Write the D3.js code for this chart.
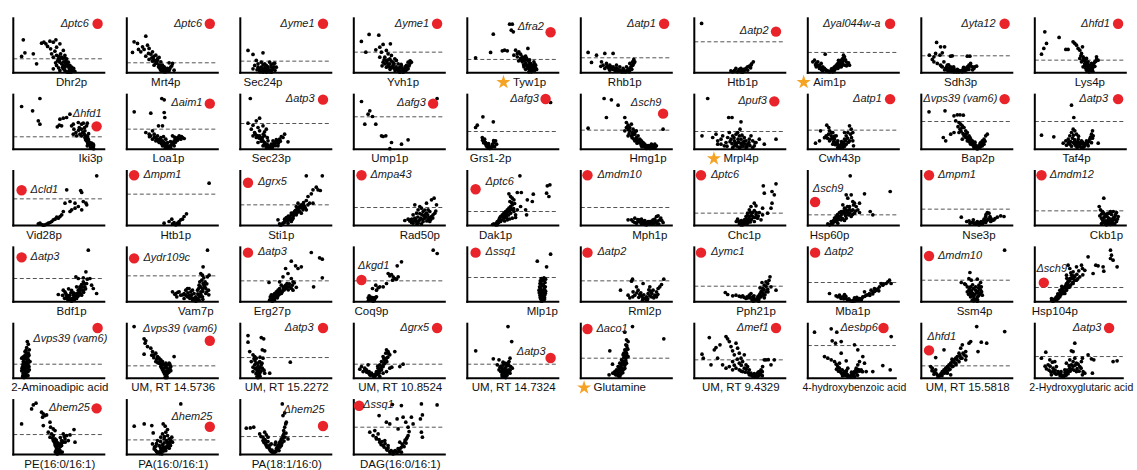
<!DOCTYPE html>
<html><head><meta charset="utf-8">
<script src="https://cdn.jsdelivr.net/npm/d3@7"></script>
<style>
html,body{margin:0;padding:0;background:#fff;}
svg{display:block;font-family:"Liberation Sans",Arial,Helvetica,sans-serif;}
</style></head><body>
<svg id="chart" width="1137" height="470"></svg>
<script>
// Panel titles (protein / metabolite), in reading order, 10 per row
const panelLabels = ["Dhr2p","Mrt4p","Sec24p","Yvh1p","Tyw1p","Rhb1p","Htb1p","Aim1p","Sdh3p","Lys4p",
"Iki3p","Loa1p","Sec23p","Ump1p","Grs1-2p","Hmg1p","Mrpl4p","Cwh43p","Bap2p","Taf4p",
"Vid28p","Htb1p","Sti1p","Rad50p","Dak1p","Mph1p","Chc1p","Hsp60p","Nse3p","Ckb1p",
"Bdf1p","Vam7p","Erg27p","Coq9p","Mlp1p","Rml2p","Pph21p","Mba1p","Ssm4p","Hsp104p",
"2-Aminoadipic acid","UM, RT 14.5736","UM, RT 15.2272","UM, RT 10.8524","UM, RT 14.7324","Glutamine","UM, RT 9.4329","4-hydroxybenzoic acid","UM, RT 15.5818","2-Hydroxyglutaric acid",
"PE(16:0/16:1)","PA(16:0/16:1)","PA(18:1/16:0)","DAG(16:0/16:1)"];

// Deletion strain highlighted in each panel
const knockouts = ["ptc6","ptc6","yme1","yme1","fra2","atp1","atp2","yal044w-a","yta12","hfd1",
"hfd1","aim1","atp3","afg3","afg3","sch9","puf3","atp1","vps39 (vam6)","atp3",
"cld1","mpm1","grx5","mpa43","ptc6","mdm10","ptc6","sch9","mpm1","mdm12",
"atp3","ydr109c","atp3","kgd1","ssq1","atp2","ymc1","atp2","mdm10","sch9",
"vps39 (vam6)","vps39 (vam6)","atp3","grx5","atp3","aco1","mef1","esbp6","hfd1","atp3",
"hem25","hem25","hem25","ssq1"];

// Panels flagged with a star
const starred = ["Tyw1p","Aim1p","Mrpl4p","Glutamine"];

// log2 fold-change range of each panel
const xLo = [-5.83,-3.9,-2.27,-4.93,-6.23,-4.4,-4.83,-2.17,-3.93,-5.5,
-7.73,-4.17,-3.1,-3.6,-2.33,-6.73,-4.67,-3.17,-5.67,-4.17,
-3.07,-4.9,-4.1,-6.6,-2.83,-6.9,-5.0,-2.17,-5.77,-7.17,
-5.83,-6.9,-3.2,-1.77,-7.5,-6.4,-6.17,-4.5,-5.33,-2.0,
-1.07,-3.9,-1.77,-2.1,-3.67,-3.9,-6.0,-4.17,-1.87,-2.83,
-4.5,-3.17,-3.27,-3.93];
const xHi = [3.27,5.2,6.83,4.17,2.87,4.7,4.27,6.93,5.17,3.6,
1.37,4.93,6.0,5.5,6.77,2.37,4.43,5.93,3.43,4.93,
6.03,4.2,5.0,2.5,6.27,2.2,4.1,6.93,3.33,1.93,
3.27,2.2,5.9,7.33,1.6,2.7,2.93,4.6,3.77,7.1,
8.03,5.2,7.33,7.0,5.43,5.2,3.1,4.63,7.23,5.97,
4.6,5.93,5.83,5.17];
// -log10(p) range shared by all panels
const yMax = 10.9;

// Significance cut-off (-log10 p) drawn as dashed line
const thresholds = [2.8,2.0,2.33,4.13,2.67,3.0,6.2,4.07,3.4,2.53,
2.47,4.0,5.13,6.47,3.53,3.8,3.53,3.8,5.53,5.53,
5.33,6.27,4.13,3.6,2.8,3.6,2.47,2.13,3.27,2.93,
4.67,5.2,4.2,4.2,4.87,4.2,3.13,3.87,4.33,2.87,
2.8,2.47,4.13,2.8,2.8,4.0,3.67,6.53,2.47,4.33,
4.0,2.93,3.6,5.47];

// Volcano points per panel: [log2 fold change, -log10 p] — outliers and arms
const volcanoPoints = [
// Dhr2p
[[-4.83,6.6],[-4.67,4.0],[-5.0,3.27],[-3.83,3.8],[-3.5,1.8],[-3.0,5.93],[-2.77,6.13],[-2.57,5.8],[-2.17,6.33],[-1.83,6.13],[-1.57,6.6],[-2.4,5.27],[-2.1,4.8],[-2.0,3.8],[-1.83,3.13],[-1.67,4.33],[-1.5,5.13],[-1.17,5.8],[-1.1,3.8],[-1.33,2.8],[-1.17,2.13],[-1.0,3.13],[-0.83,4.47],[-0.67,3.47],[-0.57,2.47],[-0.5,2.8],[-0.33,2.13],[-0.17,1.47],[0,1.13],[0,0.47],[0.17,0.6],[-0.23,0.8],[-0.5,1.47],[-0.83,1.47],[-1.0,1.8],[0.33,0.27],[-1.83,0.8],[-1.17,0.47],[-0.83,0.8],[-0.67,1.13],[-1.5,1.47],[-0.07,0.13],[-0.33,0.13],[-0.67,0.47]],
// Mrt4p
[[-3.17,6.2],[-2.83,5.87],[-2.0,7.33],[-2.33,5.2],[-3.33,4.07],[-2.5,4.2],[-2.17,4.67],[-1.83,5.53],[-1.67,4.87],[-1.5,3.73],[-1.33,4.2],[-1.0,3.53],[-1.27,2.87],[-0.83,2.53],[-0.67,3.07],[-0.5,2.2],[-1.0,1.87],[-0.33,1.53],[-0.17,1.2],[0,0.53],[0.17,0.87],[0.33,0.4],[0.5,1.2],[0.67,1.87],[0.33,2.0],[-0.73,1.2],[-0.33,0.87],[-1.17,1.53],[0,0.2],[-0.17,0.2],[-0.5,0.53],[0.83,0.53],[-1.33,2.33],[-2.0,3.33],[-1.67,2.67],[-2.73,4.67],[-1.73,3.87]],
// Sec24p
[[-1.5,4.47],[-1.0,3.67],[0,4.0],[-0.67,2.47],[-0.5,1.8],[-1.0,0.8],[-0.17,2.13],[0.17,1.8],[0.33,1.47],[0.67,2.13],[1.0,1.8],[1.17,1.93],[0.83,1.13],[0.5,0.8],[0.33,0.47],[0.17,0.33],[0,0.8],[-0.17,1.13],[-0.33,0.47],[0,0.13],[0.33,0.13],[0.67,0.47],[1.0,0.8],[1.33,1.13],[-0.5,1.13],[-0.83,1.47],[0.83,0.13],[-0.17,0.33]],
// Yvh1p
[[-4.17,6.27],[-3.4,7.67],[-2.43,7.53],[-3.73,4.13],[-2.73,4.6],[-2.33,5.13],[-2.0,5.67],[-1.27,5.8],[-2.17,4.13],[-1.67,4.47],[-1.5,3.8],[-1.83,3.13],[-2.0,2.13],[-1.67,2.47],[-1.33,2.8],[-1.17,3.47],[-1.0,2.13],[-0.83,2.8],[-0.67,2.47],[-0.5,1.8],[-0.33,1.13],[-0.17,1.47],[0,0.47],[0.17,0.8],[0.33,1.47],[0.5,2.13],[0.67,1.8],[0.83,2.13],[-1.17,1.13],[-1.5,1.47],[-0.83,0.8],[-0.5,0.47],[0,0.13],[-0.33,0.13],[-1.0,1.47],[-1.33,1.8],[-1.83,1.8],[-1.67,1.13],[0.5,0.8],[-2.33,3.13]],
// Tyw1p
[[-5.4,3.0],[-3.9,4.07],[-3.63,7.73],[-2.73,4.4],[-2.5,4.53],[-2.23,4.4],[-2.0,9.73],[-1.73,9.73],[-1.63,8.2],[-1.83,8.53],[-1.4,4.53],[-1.23,3.87],[-1.07,4.2],[-0.9,3.73],[-0.73,3.2],[-0.57,2.87],[-0.4,3.33],[-0.17,4.87],[-0.23,2.53],[-0.07,2.2],[0.1,1.87],[0.27,1.53],[0.1,1.2],[-0.07,0.87],[0.03,0.53],[0.17,0.2],[0.43,0.87],[0.6,1.53],[0.43,2.2],[-0.4,1.87],[-0.73,2.2],[-0.9,2.87],[-0.23,1.2],[0.27,0.53],[-0.57,1.2],[-1.23,3.2],[-1.57,3.53],[0.7,0.67],[-0.07,0.2]],
// Rhb1p
[[-3.67,4.07],[-2.83,3.53],[-2.0,3.87],[-1.17,3.87],[-3.33,2.07],[-2.33,2.2],[-2.17,1.53],[-1.83,1.87],[-1.67,1.2],[-1.5,1.53],[-1.33,0.87],[-1.17,1.2],[-1.0,0.53],[-0.83,0.87],[-0.67,0.4],[-0.5,0.53],[-0.33,0.2],[-0.17,0.4],[0,0.2],[0.17,0.4],[0.33,0.67],[0.5,0.87],[0.67,1.53],[0.77,2.2],[0.9,2.67],[0.5,1.87],[0.17,1.2],[-0.17,0.87],[-0.5,1.2],[-0.83,1.53],[-2.0,0.87],[-1.5,0.53],[0.43,0.2],[1.0,2.2]],
// Htb1p
[[-4.1,9.87],[-1.17,0.4],[-0.67,0.87],[-0.33,0.67],[-0.17,0.2],[0,0.13],[0.17,0.4],[0.33,0.87],[0.5,1.2],[0.67,1.33],[0.83,1.53],[1.07,2.2],[0,0.53],[-0.17,0.87],[-1.0,0.2],[0.5,0.53],[-0.5,0.2]],
// Aim1p
[[-0.43,3.73],[-1.5,2.53],[-1.33,1.87],[-1.17,2.2],[-1.0,1.53],[-0.83,1.87],[-0.67,1.2],[-0.5,0.87],[-0.33,0.53],[-0.17,0.4],[0,0.2],[0.17,0.53],[0.33,0.87],[0.5,1.2],[0.67,1.53],[0.83,1.87],[1.0,2.2],[1.17,2.53],[1.33,2.87],[1.5,3.2],[1.67,2.2],[1.83,1.73],[2.0,1.53],[1.5,1.53],[1.17,1.2],[0.83,0.87],[0.5,0.53],[-1.0,0.87],[-1.33,1.2],[-0.67,0.4],[0.33,0.2],[1.0,1.2],[1.4,3.53],[1.27,1.87],[-1.67,2.2]],
// Sdh3p
[[-2.4,6.07],[-2.0,5.2],[-1.6,5.2],[-3.13,3.53],[-2.83,2.67],[-2.67,3.2],[-2.5,3.87],[-2.07,3.53],[-1.83,4.0],[-1.67,2.2],[-1.0,3.33],[-0.83,3.4],[0.67,3.33],[0.93,3.33],[-2.0,1.53],[-1.83,1.2],[-1.5,0.87],[-1.33,1.53],[-1.17,0.87],[-1.0,1.2],[-0.83,0.53],[-0.67,0.87],[-0.5,0.4],[-0.33,0.67],[-0.17,0.2],[0,0.4],[0.17,0.2],[0.33,0.53],[0.5,0.87],[0.67,1.2],[0.83,1.53],[1.0,1.87],[1.17,1.2],[1.33,0.87],[1.6,1.33],[-1.33,0.53],[-0.67,0.2],[-2.33,1.87],[-2.67,2.2],[0.83,0.67]],
// Lys4p
[[-4.83,3.73],[-4.6,4.87],[-4.33,5.87],[-4.5,8.2],[-3.07,7.07],[-2.4,4.67],[-2.17,4.67],[-1.67,6.2],[-1.5,5.87],[-1.33,5.53],[-1.17,4.87],[-1.0,4.53],[-0.83,3.87],[-0.73,5.2],[-0.67,3.2],[-1.0,2.87],[-0.5,2.53],[-0.33,2.87],[-0.83,2.2],[-0.5,1.87],[-0.33,1.53],[-0.17,1.2],[0,0.87],[0.17,0.53],[-0.07,0.2],[0.07,0.4],[0.33,1.53],[0.5,2.2],[0.67,2.67],[0.83,2.53],[0.67,3.2],[0.17,1.87],[-0.17,2.2],[-0.67,1.2],[-0.33,0.53],[0.27,0.87]],
// Iki3p
[[-6.9,8.53],[-5.8,7.67],[-5.07,10.13],[-5.23,5.67],[-5.07,5.0],[-3.33,4.47],[-3.13,4.8],[-2.9,4.67],[-3.07,6.0],[-2.73,6.2],[-2.4,6.33],[-2.07,7.0],[-1.9,4.67],[-1.73,5.0],[-1.67,4.0],[-1.47,3.33],[-1.23,5.33],[-1.13,4.33],[-0.9,5.0],[-0.73,5.2],[-0.57,3.67],[-0.4,4.67],[-0.33,5.2],[-0.47,2.67],[-0.73,3.33],[-1.07,3.0],[-0.23,2.0],[-0.07,1.33],[0.1,0.67],[0.27,1.0],[0,0.33],[-0.23,1.0],[-0.4,1.67],[-0.57,2.33],[-0.9,2.67],[-1.4,2.67],[-1.73,3.0],[0.2,0.33],[-0.33,0.67]],
// Loa1p
[[-3.43,7.47],[-1.77,7.2],[-0.67,10.13],[-0.43,9.87],[-0.43,7.33],[-0.37,6.33],[-1.0,4.67],[-0.6,4.67],[-2.27,3.33],[-1.93,3.0],[-1.77,2.67],[-1.6,3.67],[-1.43,3.0],[-1.27,2.33],[-1.1,2.67],[-0.93,2.0],[-0.77,2.33],[-0.6,1.67],[-0.43,1.33],[-0.27,1.0],[-0.1,0.67],[0.07,0.33],[0.23,0.67],[0.4,1.33],[0.57,1.67],[0.73,2.0],[0.9,2.33],[1.07,2.67],[1.23,2.0],[1.4,2.33],[1.57,2.13],[0.4,2.67],[-0.27,2.0],[-0.6,0.67],[-0.93,1.33],[-1.27,1.67],[-1.6,2.0],[0.57,0.67],[0.23,0.2],[-0.33,0.2]],
// Sec23p
[[-2.1,10.13],[-1.17,6.2],[-2.33,5.2],[-1.83,4.8],[-1.5,5.67],[-1.33,4.33],[-2.0,4.0],[-1.67,3.33],[-1.17,3.67],[-0.83,4.67],[-0.67,3.47],[-0.5,4.0],[-1.83,2.67],[-1.5,2.33],[-1.17,2.67],[-1.0,2.0],[-0.83,1.67],[-0.67,1.33],[-0.5,1.0],[-0.33,0.67],[-0.17,0.33],[0,0.2],[0.17,0.67],[0.33,1.0],[0.5,1.33],[0.67,1.67],[0.83,2.0],[1.17,2.33],[1.33,3.0],[1.67,1.47],[-1.33,1.33],[-0.83,0.67],[-0.33,1.67],[0.17,1.67],[0.67,0.67],[-0.5,0.33],[-0.67,2.67],[0,1.0]],
// Ump1p
[[-2.83,9.53],[-2.17,7.0],[-2.0,7.67],[-2.5,5.0],[-1.73,6.53],[-1.4,5.0],[-0.83,2.67],[-0.67,2.53],[-0.4,2.67],[0.17,1.33],[1.17,1.0],[1.83,1.87],[0,0.1],[4.73,10.13]],
// Grs1-2p
[[-1.5,4.33],[-1.33,4.8],[-0.77,6.47],[0.27,5.47],[-0.83,2.33],[-0.67,1.67],[-0.5,1.33],[-0.33,1.0],[-0.17,0.67],[0,0.33],[0.17,0.67],[0.33,1.33],[0.5,1.67],[0.6,1.0],[-0.27,0.33],[-0.6,2.0],[6.0,9.33],[-0.07,0.13]],
// Hmg1p
[[-6.0,4.2],[-4.4,10.13],[-3.67,9.87],[-3.0,8.8],[-4.17,6.33],[-2.33,6.33],[-2.17,5.33],[-2.0,4.8],[-1.83,4.33],[-1.67,5.0],[-1.83,3.67],[-1.57,3.33],[-1.67,2.67],[-1.33,3.0],[-1.17,2.33],[-1.0,2.67],[-0.83,2.0],[-0.67,1.67],[-0.5,1.33],[-0.33,1.0],[-0.17,0.67],[0,0.33],[0.17,0.67],[0.33,1.0],[0.5,0.67],[0.67,1.0],[0.83,0.67],[-2.33,3.67],[-2.0,2.67],[-1.33,1.67],[-1.0,1.33],[-0.67,0.67],[-0.17,0.13],[1.5,4.0],[-1.5,4.0],[-1.17,3.67],[-2.17,4.33],[0.17,0.13]],
// Mrpl4p
[[-3.33,10.13],[-1.23,6.33],[-0.9,6.33],[0,5.47],[-3.9,2.67],[-2.83,2.33],[-2.5,3.0],[-2.33,1.67],[-2.0,2.0],[-1.83,2.67],[-1.5,1.33],[-1.33,2.33],[-1.17,3.33],[-1.0,2.0],[-0.83,2.67],[-0.67,1.67],[-0.5,1.0],[-0.33,3.33],[-0.17,2.67],[-0.1,4.0],[0,2.0],[0.1,0.67],[0.17,1.33],[0.33,2.33],[0.5,1.67],[0.67,1.0],[0.83,2.0],[1.0,2.67],[1.17,1.67],[1.33,0.67],[1.5,1.33],[1.83,2.0],[2.33,1.0],[3.5,2.0],[-2.33,1.0],[-1.67,0.67],[-0.67,0.67],[-0.17,0.33],[0.5,0.33],[1.17,0.33],[-0.33,1.33],[-0.83,0.33]],
// Cwh43p
[[-2.4,1.2],[-2.0,1.67],[-1.9,3.67],[-1.27,4.8],[-1.07,4.33],[-1.0,3.67],[-1.33,2.67],[-0.83,2.67],[-0.67,3.33],[-0.5,2.0],[-0.33,1.33],[-0.17,1.67],[0,0.67],[0.17,1.0],[0.33,1.33],[0.5,2.0],[0.67,2.67],[0.83,3.33],[1.0,4.67],[1.17,4.0],[1.33,1.67],[1.4,0.67],[-0.67,1.0],[-1.0,1.67],[-0.33,2.67],[0.67,1.0],[1.0,1.67],[0,0.2],[0.33,0.33],[-0.17,0.33],[0.5,3.33],[1.33,3.33]],
// Bap2p
[[-4.9,7.47],[-3.3,7.67],[-2.4,6.67],[-2.07,6.87],[-1.8,6.87],[-1.47,6.8],[-2.23,5.67],[-1.9,5.33],[-1.73,5.0],[-1.57,4.67],[-1.8,4.0],[-1.4,4.33],[-1.23,3.67],[-1.9,3.33],[-2.4,3.33],[-2.73,3.0],[-3.47,2.33],[-3.23,1.67],[-1.07,3.33],[-0.9,2.67],[-0.73,2.0],[-0.57,1.67],[-0.4,1.33],[-0.23,0.67],[-0.07,0.33],[0.1,0.67],[0.27,1.33],[0.43,1.67],[0.6,2.0],[0.77,2.67],[0.93,3.0],[-1.4,2.67],[-1.07,1.67],[-0.73,1.0],[-0.4,0.33],[0.43,0.67],[-1.57,2.0],[-1.23,2.33],[-0.07,0.05]],
// Taf4p
[[-0.5,8.8],[-0.27,6.33],[-3.5,2.8],[-2.27,2.47],[-1.33,1.2],[-1.07,1.67],[-0.83,2.0],[-0.67,2.67],[-0.5,3.33],[-0.33,4.0],[-0.17,3.67],[0,3.0],[0.17,2.0],[-0.33,1.33],[-0.07,0.67],[0.07,0.33],[-0.17,1.0],[0.33,1.33],[0.5,1.67],[0.67,1.0],[0.83,0.67],[1.0,1.67],[1.33,2.0],[1.5,3.0],[1.6,3.67],[1.67,2.67],[2.17,1.2],[-0.67,1.0],[-1.0,0.8],[0.17,1.0],[1.17,0.67],[0.5,0.33]],
// Vid28p
[[5.27,9.93],[2.27,7.13],[3.67,7.0],[3.77,6.6],[2.6,4.8],[2.1,4.47],[3.1,4.47],[3.93,4.8],[4.2,4.47],[4.27,4.13],[2.77,3.13],[2.6,2.8],[3.77,3.13],[3.43,3.8],[3.1,3.47],[1.93,2.8],[1.6,1.8],[1.43,1.47],[1.27,1.67],[1.1,1.27],[0.77,0.8],[0.6,0.6],[0.43,0.47],[0.27,0.27],[-0.07,0.07],[-0.23,0.2],[-0.4,0.47],[-0.57,0.33],[0.1,0.13],[0.93,1.13],[1.77,2.13]],
// Htb1p
[[3.33,8.47],[-1.17,0.47],[-0.67,0.8],[-0.33,0.33],[-0.17,0.6],[0,0.13],[0.17,0.47],[0.33,0.8],[0.5,1.13],[0.67,1.27],[0.83,1.8],[1.07,2.33],[-0.4,1.27],[0.33,0.33]],
// Sti1p
[[2.5,9.93],[4.1,9.93],[3.5,7.67],[3.67,7.13],[3.9,7.0],[3.17,7.13],[3.0,6.33],[2.67,5.8],[2.23,4.6],[2.5,5.0],[2.83,4.47],[2.0,4.13],[1.83,3.8],[1.67,3.47],[1.5,3.13],[1.33,2.8],[1.17,2.47],[1.0,2.13],[0.83,1.8],[0.67,1.47],[0.5,1.13],[0.33,0.8],[0.17,0.47],[0,0.13],[-0.17,0.33],[-0.33,1.13],[0.33,1.27],[0.83,1.13],[1.17,1.47],[1.5,2.13],[1.83,2.8],[2.17,3.13],[2.33,3.8],[2.67,4.13],[3.17,4.47],[2.0,2.47],[2.5,3.13],[0.67,0.47],[1.0,0.8],[1.5,3.8],[1.67,4.47]],
// Rad50p
[[-1.5,1.0],[-1.17,1.27],[-0.93,1.13],[-0.67,2.13],[-0.5,1.47],[-0.33,2.47],[-0.17,3.13],[0,3.8],[0.17,3.47],[0.33,2.8],[0.5,2.13],[0.67,2.47],[0.83,3.13],[1.0,2.8],[1.17,5.13],[1.43,5.47],[1.67,4.13],[1.33,2.13],[1.5,2.47],[0,1.13],[-0.17,0.47],[0.17,0.33],[0.33,0.8],[-0.33,0.8],[-0.67,0.47],[0.5,1.47],[0.83,1.13],[1.17,1.8],[-0.5,4.13],[0.67,4.47],[1.0,0.8],[-0.83,0.6]],
// Dak1p
[[2.43,9.93],[2.17,6.6],[2.57,6.6],[3.77,6.27],[5.17,7.93],[5.43,8.13],[5.1,6.47],[5.33,5.8],[1.33,6.33],[1.5,5.8],[1.67,5.47],[1.83,5.13],[1.43,4.8],[1.67,4.13],[1.5,3.8],[1.33,3.47],[1.17,3.13],[1.0,2.8],[0.83,2.47],[0.67,2.13],[0.5,1.8],[0.33,1.13],[0.17,0.8],[0,0.13],[-0.17,0.33],[0.17,0.13],[0.5,0.8],[0.83,1.47],[1.17,2.13],[1.5,2.47],[1.83,2.8],[2.17,3.13],[3.17,5.13],[3.67,4.8],[3.0,3.13],[3.1,2.13],[2.5,3.8],[2.0,2.13],[1.67,1.47],[1.17,1.13]],
// Mph1p
[[-2.17,1.13],[-1.83,1.13],[-1.5,1.47],[-1.17,0.8],[-0.83,1.27],[-0.67,0.6],[-0.5,1.0],[-0.33,0.47],[-0.17,0.8],[0,0.27],[0.17,0.6],[0.33,1.13],[0.5,1.27],[0.67,1.8],[0.83,1.93],[1.0,1.13],[1.33,0.6],[-1.33,0.47],[-0.83,0.33],[-0.33,0.13],[0.33,0.27],[0.67,0.47],[0,0.8],[-1.0,1.13],[-1.67,0.8]],
// Chc1p
[[1.9,7.93],[3.17,8.33],[2.77,6.8],[3.0,6.13],[2.0,6.47],[1.0,4.47],[1.17,3.93],[1.83,3.47],[2.33,2.47],[2.67,3.47],[2.77,4.47],[0.67,3.8],[0.5,3.13],[0.33,2.47],[0.17,1.8],[0,1.13],[-0.17,0.8],[-0.33,0.47],[-0.5,0.8],[-0.67,1.27],[-0.17,0.13],[0,0.33],[0.17,0.8],[0.33,1.27],[0.5,1.8],[0.67,2.13],[0.83,2.6],[1.0,3.0],[1.17,2.13],[1.33,1.47],[1.67,1.13],[1.83,2.13],[-0.33,0.13],[0.33,0.47]],
// Hsp60p
[[2.07,9.93],[6.07,6.8],[3.5,6.33],[1.67,6.13],[2.17,6.13],[1.83,5.47],[2.33,4.8],[2.5,4.47],[2.67,3.8],[3.0,4.47],[2.83,3.13],[4.07,2.8],[4.33,2.13],[1.33,4.13],[1.5,3.47],[1.67,3.13],[2.0,3.8],[1.83,2.8],[1.5,2.47],[1.17,2.13],[1.0,1.8],[0.83,1.47],[0.67,1.13],[0.5,0.8],[0.33,0.47],[0,0.13],[-0.17,0.33],[0.17,0.8],[0.67,1.8],[1.17,2.8],[2.0,2.47],[2.33,3.13],[2.5,2.47],[2.17,1.8],[1.67,1.47],[1.17,1.13],[0.83,0.47]],
// Nse3p
[[-1.77,1.67],[-1.23,0.8],[-1.0,0.93],[-0.77,0.6],[-0.57,1.13],[-0.33,0.47],[-0.17,0.8],[0,0.13],[0.17,0.47],[0.33,0.8],[0.5,1.27],[0.67,1.8],[0.83,2.6],[1.0,2.47],[0.9,1.27],[1.17,0.8],[1.33,1.0],[1.5,1.13],[1.83,1.67],[2.17,1.93],[2.5,1.8],[-0.5,0.33],[0.33,0.33],[0.67,0.6],[1.1,1.8],[0,0.6]],
// Ckb1p
[[-0.27,5.47],[-0.73,3.8],[-0.6,3.13],[-0.4,2.8],[-0.27,2.47],[-0.07,2.13],[0.07,1.8],[0.27,2.47],[0.4,2.8],[0.67,2.8],[1.0,2.6],[1.17,1.8],[0.83,1.8],[0.67,1.13],[0.5,0.8],[0.33,0.47],[0.17,0.27],[0,0.13],[-0.17,0.47],[-0.33,0.8],[-0.5,1.47],[-0.67,1.93],[1.0,0.8],[0.83,0.33],[0.67,0.27],[-0.27,1.47],[0.17,1.13],[-0.07,0.93]],
// Bdf1p
[[1.67,10.33],[1.43,6.0],[0.43,5.0],[0.67,4.67],[1.17,4.8],[1.57,4.53],[1.83,4.67],[2.0,3.33],[2.17,2.67],[2.5,1.67],[-1.33,1.47],[-0.67,2.0],[-0.5,1.33],[-0.33,1.0],[-0.17,0.67],[0,0.13],[0.17,0.33],[0.33,1.0],[0.5,1.67],[0.67,2.33],[0.83,3.0],[1.0,3.47],[1.17,4.0],[0.83,2.0],[0.5,0.67],[0.17,1.33],[-0.33,0.33],[-0.57,0.8],[1.33,3.0],[1.5,3.67],[1.17,2.33],[1.0,1.33],[0.67,1.2],[-0.83,2.33],[-0.07,1.8]],
// Vam7p
[[1.17,10.33],[0.73,7.0],[0.5,5.67],[0.67,5.33],[1.17,5.0],[1.33,5.33],[-2.33,2.0],[-2.0,1.67],[-1.67,2.0],[-1.5,1.33],[-1.17,1.67],[-1.0,2.33],[-0.83,2.67],[-0.67,1.33],[-0.5,1.0],[-0.33,0.67],[-0.17,0.33],[0,0.13],[0.17,0.67],[0.33,1.33],[0.5,2.0],[0.67,2.67],[0.73,3.67],[0.83,3.33],[1.0,2.67],[0.93,4.0],[0.6,4.33],[0.33,3.33],[0.17,2.33],[-0.17,1.67],[-0.5,2.0],[-0.83,1.0],[-1.17,0.67],[0.33,0.33],[0.67,1.0],[1.0,1.67],[1.27,2.33],[0,1.0],[-0.33,2.33],[-0.67,2.67]],
// Erg27p
[[3.9,9.87],[4.73,8.8],[5.0,8.53],[5.0,4.8],[4.13,3.0],[1.9,8.13],[2.33,7.2],[2.57,6.67],[2.9,7.0],[1.33,6.67],[1.57,5.67],[1.07,5.0],[1.9,4.67],[2.07,4.0],[1.47,3.67],[1.23,3.0],[0.9,3.33],[0.73,2.67],[0.57,2.33],[0.4,2.0],[0.23,1.67],[0.07,1.33],[-0.1,0.67],[-0.27,0.33],[0,0.13],[0.23,0.67],[0.57,1.2],[0.9,1.67],[1.07,2.33],[1.4,2.67],[1.73,3.0],[2.0,3.33],[-0.33,3.87],[0.73,4.0],[0.4,1.0],[-0.2,1.0],[2.07,2.33]],
// Coq9p
[[6.17,10.33],[6.57,9.67],[2.57,7.2],[3.0,8.0],[1.67,5.67],[1.83,5.2],[2.0,5.47],[2.17,5.0],[2.33,4.67],[2.5,4.53],[2.67,5.0],[2.1,4.33],[1.5,3.67],[1.17,3.0],[0.83,3.0],[0.5,2.33],[0.67,2.8],[0.1,2.67],[0.43,3.33],[-0.23,1.2],[-0.1,0.8],[0,0.33],[0.17,0.13],[0.33,0.67],[0.5,1.0],[0.1,0.53],[-0.33,0.8]],
// Mlp1p
[[0.83,9.53],[-0.5,8.13],[0.43,7.0],[-0.1,4.67],[0.17,4.8],[0.33,4.53],[-0.23,3.67],[0,3.33],[0.17,3.0],[-0.17,2.67],[0.1,2.33],[-0.1,2.0],[0.17,1.67],[-0.23,1.33],[0,1.0],[0.23,0.8],[-0.17,0.67],[0.1,0.33],[-0.1,0.13],[0.33,2.13],[-0.33,2.33],[0.27,3.87],[-0.27,3.0],[0.23,1.33]],
// Rml2p
[[-2.43,2.33],[-1.67,1.33],[-1.33,4.13],[-1.23,4.53],[-1.17,2.0],[-0.83,3.0],[-0.67,2.33],[-0.5,1.47],[-0.17,3.67],[-0.33,1.2],[0,0.67],[0.17,1.0],[0.33,1.67],[0.5,3.0],[0.57,2.13],[0.83,2.33],[1.0,1.33],[1.17,2.0],[1.33,2.67],[1.5,3.0],[1.67,3.47],[1.9,4.53],[-0.23,0.33],[-1.0,1.33],[-1.5,0.8],[0.67,1.0],[0.17,0.33],[1.17,1.0]],
// Pph21p
[[-3.07,1.87],[-2.83,1.47],[-2.33,1.2],[-2.0,1.33],[-1.67,1.13],[-1.33,1.2],[-0.83,0.8],[-0.67,1.33],[-0.5,1.67],[-0.33,1.0],[-0.17,0.67],[0,0.33],[0.17,0.8],[0.33,1.33],[0.5,2.0],[0.67,2.67],[0.83,3.33],[1.0,4.0],[1.4,5.0],[1.17,3.67],[1.5,3.0],[2.0,2.33],[0.67,1.33],[1.0,2.0],[-0.27,0.13],[0.27,0.13],[0.83,0.8],[0.6,3.87],[1.17,2.53],[-1.0,0.67]],
// Mba1p
[[-2.33,1.67],[-1.67,1.2],[-1.33,1.33],[-1.0,1.0],[-0.67,0.67],[-0.33,0.33],[0,0.13],[0.33,0.33],[0.67,0.67],[1.0,1.0],[1.33,1.33],[1.67,1.67],[2.0,2.0],[2.33,2.33],[2.67,3.0],[3.0,3.33],[3.33,3.67],[3.67,4.33],[3.83,3.67],[2.83,3.67],[-0.83,1.47],[0.17,0.8],[1.17,2.0],[1.83,2.33],[-0.5,0.33],[0.83,0.33],[-1.17,0.67],[2.17,2.67]],
// Ssm4p
[[3.0,10.33],[-0.47,5.87],[-0.57,4.67],[-0.33,4.33],[0.27,4.53],[0.6,3.87],[-1.33,3.87],[-0.9,3.47],[-0.73,3.0],[-0.57,2.33],[-0.4,2.0],[-0.23,1.33],[-0.07,0.67],[0.1,0.33],[0.27,1.0],[0.43,1.67],[0.6,2.33],[0.67,3.0],[0.1,2.33],[-0.13,2.67],[-0.33,1.67],[0.27,0.13],[-0.23,0.33],[0.77,1.33],[-0.73,2.0],[0.43,3.33]],
// Hsp104p
[[5.57,10.33],[5.67,9.33],[5.57,8.67],[5.83,8.33],[6.23,7.0],[4.83,7.0],[4.33,7.2],[4.1,7.33],[3.83,5.67],[4.9,6.13],[3.33,9.0],[2.67,7.33],[2.77,6.67],[2.17,7.0],[1.33,7.33],[1.5,6.67],[1.83,6.0],[1.67,5.33],[1.5,4.67],[1.33,4.13],[1.17,3.67],[1.0,3.0],[0.83,2.33],[0.67,2.0],[0.5,1.67],[0.33,1.33],[0.17,1.0],[0,0.33],[-0.17,0.13],[-0.33,0.67],[0.17,0.33],[0.5,1.0],[0.83,1.67],[1.17,2.33],[1.5,3.0],[1.83,3.67],[2.17,4.33],[2.5,5.0],[2.0,5.0],[1.33,3.33],[1.0,1.67],[0.33,0.67],[1.17,5.33],[1.83,4.67]],
// 2-Aminoadipic acid
[[0.33,7.33],[0.43,6.8],[0.27,6.13],[0.53,5.67],[0.1,5.33],[0.43,5.0],[0.27,4.67],[0,4.33],[0.2,4.0],[0.43,3.67],[-0.07,3.33],[0.1,3.0],[0.33,2.67],[-0.13,2.33],[0.2,2.13],[0,1.67],[0.27,1.33],[-0.07,1.0],[0.1,0.67],[-0.13,0.33],[0.2,0.33],[0.53,1.67],[-0.23,1.47],[0,0.13],[0.6,3.33],[-0.23,4.0]],
// UM, RT 14.5736
[[-3.17,10.33],[-2.17,7.87],[-2.0,7.47],[-2.07,7.0],[-1.83,6.33],[-2.17,4.8],[-1.5,6.0],[-1.33,5.33],[-1.17,4.67],[-1.0,5.0],[-0.83,4.33],[-0.67,4.0],[-0.5,3.67],[-0.67,3.0],[-0.33,2.67],[-0.17,2.0],[0,1.33],[0.07,0.67],[-0.07,0.13],[0.17,1.0],[0.33,1.67],[0.5,2.33],[0.33,3.0],[0.83,4.33],[-0.33,3.33],[0,2.33],[-0.5,2.33],[-1.0,3.33]],
// UM, RT 15.2272
[[-1.0,8.53],[-1.0,7.2],[0.33,8.13],[0.57,7.87],[0.43,5.67],[0.67,5.47],[-0.83,5.33],[-0.5,4.67],[-0.33,4.33],[-0.17,4.0],[-0.67,3.33],[-0.33,2.67],[0,3.0],[0.17,3.33],[0.33,2.67],[0.5,4.0],[-0.17,2.0],[0,1.33],[0.17,1.0],[-0.1,0.33],[0.1,0.67],[0.67,1.0],[1.17,1.0],[-0.5,1.33],[3.23,3.2],[0.43,2.0]],
// UM, RT 10.8524
[[1.17,5.67],[1.33,5.33],[1.1,5.0],[1.5,4.67],[0.83,4.33],[1.17,4.0],[0.67,3.33],[1.0,3.0],[0.5,2.67],[0.83,2.33],[0.33,2.0],[0.67,1.67],[0.17,1.33],[0.43,1.0],[0,0.33],[-0.17,0.67],[-0.33,1.0],[-0.57,1.33],[-0.83,1.67],[-1.0,2.0],[-1.33,2.33],[-0.5,0.67],[0.17,0.67],[0.5,0.33],[0.83,1.0],[1.17,1.33],[1.5,2.0],[2.0,5.33],[2.83,2.8],[2.5,2.33],[-0.67,2.67],[-1.17,1.33]],
// UM, RT 14.7324
[[0.4,10.33],[0.77,7.33],[-2.83,5.47],[-1.07,3.87],[-0.5,3.67],[0.07,3.0],[0.6,4.0],[0.5,3.33],[-0.67,2.67],[-0.33,2.33],[-0.17,2.0],[0,1.67],[0.17,1.33],[-0.07,1.0],[0.07,0.67],[0,0.33],[0.33,1.0],[0.5,1.67],[0.67,2.33],[0.83,2.0],[-0.33,1.33],[-0.5,1.67],[0.17,0.13],[-0.17,0.33],[0.6,1.0],[0.33,2.67]],
// Glutamine
[[1.27,10.33],[4.4,7.87],[0.5,9.2],[0.67,7.67],[0.83,7.33],[0.6,6.67],[0.73,6.0],[0.5,5.67],[0.67,5.0],[0.33,4.67],[0.6,4.0],[0.17,3.67],[0.5,3.33],[0,3.0],[0.33,2.67],[-0.17,2.33],[0.17,2.0],[-0.33,1.67],[0,1.33],[-0.5,1.33],[-0.17,1.0],[-0.4,0.67],[0,0.33],[-1.0,5.47],[-0.73,2.8],[-1.07,0.67],[0.5,2.0],[0.67,3.0],[0.83,4.33],[0.27,1.67]],
// UM, RT 9.4329
[[-4.5,8.13],[-5.23,4.8],[-5.1,4.0],[-4.33,2.67],[-4.0,5.67],[-3.83,6.13],[-3.67,4.0],[-3.43,6.67],[-2.83,8.33],[-2.67,7.87],[-2.5,7.33],[-2.33,6.33],[-2.17,5.47],[-2.0,4.67],[-1.83,7.0],[-1.67,6.0],[-1.5,5.0],[-2.17,3.33],[-2.5,2.33],[-2.83,2.0],[-3.17,2.67],[-1.33,4.0],[-1.17,3.33],[-1.0,4.67],[-0.83,2.67],[-0.5,1.67],[-0.33,1.0],[-0.17,0.67],[0,0.33],[0.17,0.67],[0.33,1.0],[0.5,1.33],[0.67,1.67],[0.83,2.33],[1.0,3.67],[1.17,3.67],[1.67,2.67],[2.0,3.67],[-1.83,2.0],[-1.5,1.67],[-1.17,1.33],[-0.67,2.33],[-0.5,0.67],[0.33,0.33],[-2.17,1.67]],
// 4-hydroxybenzoic acid
[[-3.5,9.2],[-1.83,9.87],[-1.27,9.2],[4.17,8.33],[-1.73,7.47],[-1.4,7.0],[-0.83,7.33],[0.5,6.67],[0.83,5.67],[-0.83,5.0],[-2.5,4.33],[-2.17,4.0],[-1.83,3.67],[-1.5,3.33],[-1.33,2.8],[-1.17,2.33],[-1.0,2.0],[-0.73,1.67],[-0.5,1.33],[-0.33,1.0],[-0.17,0.67],[0,0.33],[0.17,0.67],[0.33,1.0],[0.5,1.33],[0.67,2.0],[0.83,2.67],[1.0,3.33],[1.33,4.33],[1.5,3.0],[-0.33,3.47],[1.67,1.33],[2.33,1.33],[3.33,2.53],[4.07,1.67],[-0.5,0.67],[0.5,0.33],[1.17,1.67],[-1.0,3.0],[-0.17,2.0]],
// UM, RT 15.5818
[[3.67,10.33],[6.47,9.33],[3.07,7.33],[2.9,7.0],[4.13,7.2],[4.67,7.0],[2.23,6.67],[2.07,6.0],[3.8,5.33],[2.57,5.33],[2.4,4.67],[1.9,5.0],[1.73,4.33],[1.57,4.0],[1.4,3.67],[1.23,3.33],[1.07,3.0],[0.9,2.67],[0.73,2.33],[0.57,2.0],[0.4,1.67],[0.23,1.33],[0.07,0.67],[-0.1,0.33],[-0.27,0.67],[-0.6,1.33],[-0.77,2.0],[-0.43,1.67],[0.4,5.67],[0.4,1.0],[0.9,1.67],[1.23,2.33],[1.57,3.0],[2.07,4.0],[2.57,3.67],[1.07,0.67],[0.73,1.0],[-0.43,4.13],[-0.93,2.33]],
// 2-Hydroxyglutaric acid
[[1.17,7.0],[0.83,5.47],[1.0,5.33],[-1.73,5.2],[-2.17,4.0],[-1.33,3.67],[-1.07,3.2],[-1.5,2.67],[-1.67,1.87],[-1.0,2.0],[-0.67,2.33],[-0.5,1.33],[-0.33,1.0],[-0.17,0.67],[0,0.33],[0.17,0.67],[0.33,1.0],[0.5,1.33],[0.67,2.0],[0.83,2.67],[1.0,3.33],[1.17,4.0],[1.33,3.0],[1.67,2.33],[1.83,3.33],[1.93,4.0],[2.5,4.67],[2.83,3.87],[3.07,3.67],[2.93,1.0],[5.0,3.33],[5.4,3.47],[1.93,0.67],[2.17,1.0],[-0.83,1.0],[-1.17,0.67],[0.33,3.0],[0.67,3.67],[1.33,1.33],[-0.83,3.33],[0.17,1.67]],
// PE(16:0/16:1)
[[-3.67,6.13],[-2.67,9.13],[-2.23,10.27],[-2.5,9.93],[-1.67,8.47],[-1.5,8.13],[-1.33,7.8],[-1.57,7.47],[-1.17,7.93],[-1.5,5.8],[-0.83,6.47],[-0.77,5.47],[-0.5,5.13],[-0.33,4.8],[-0.67,4.13],[-1.0,4.47],[-0.5,3.8],[-0.33,3.13],[-0.17,2.47],[-0.1,1.8],[0,1.13],[0.1,0.47],[-0.1,0.13],[0.17,0.8],[0.33,1.8],[0.5,2.47],[0.67,3.13],[0.83,3.8],[1.17,3.93],[1.57,5.0],[1.67,2.47],[0.5,4.13],[-0.33,2.13],[-0.5,2.8],[0.33,2.8],[-0.23,0.8],[-0.83,3.47],[1.0,2.8]],
// PA(16:0/16:1)
[[-2.43,5.67],[-1.43,6.13],[-0.67,5.8],[-0.53,4.33],[2.23,10.13],[0.47,6.13],[0.67,5.67],[0.9,5.0],[0.73,4.47],[0.4,4.13],[0.23,3.47],[0.57,3.13],[0.9,3.8],[1.07,3.13],[1.23,2.8],[1.13,2.13],[0.9,1.8],[0.67,1.47],[0.4,1.13],[0.23,0.8],[0,0.47],[-0.2,0.6],[-0.43,1.13],[-0.27,1.67],[-0.6,2.13],[0.07,1.8],[0.57,2.33],[1.4,2.47],[1.33,3.47],[0.33,0.13],[0.73,0.8],[1.07,1.27],[-0.1,2.8]],
// PA(18:1/16:0)
[[-2.67,5.27],[-2.27,5.33],[-1.93,5.47],[-1.33,4.13],[-0.83,4.47],[-0.67,3.93],[-0.5,3.47],[-1.0,2.8],[-0.73,2.13],[-0.5,1.67],[-0.33,1.13],[-0.17,0.6],[0,0.33],[0.17,0.6],[0.33,1.13],[0.5,1.8],[0.67,2.47],[0.83,3.13],[1.0,3.8],[1.07,4.8],[1.17,5.47],[1.27,6.13],[1.0,7.8],[1.17,8.33],[0.93,10.13],[1.33,6.47],[-1.0,3.47],[-0.67,1.8],[-0.27,0.8],[0.6,0.8],[0.83,1.8],[0.27,2.47],[-0.17,2.13],[1.5,3.13]],
// DAG(16:0/16:1)
[[-0.07,10.0],[0.83,9.8],[2.83,10.13],[4.4,9.93],[-1.4,7.8],[-0.67,6.47],[0.4,7.13],[1.0,7.47],[1.27,6.47],[1.83,7.47],[2.73,7.13],[2.93,7.93],[2.0,6.13],[1.5,5.47],[1.6,4.6],[2.83,4.47],[2.93,3.47],[-2.33,4.47],[-2.0,3.8],[-1.67,3.13],[-1.33,2.47],[-1.0,1.8],[-0.67,1.13],[-0.33,0.6],[0,0.13],[0.33,0.6],[0.67,1.13],[1.0,1.8],[1.17,2.47],[1.33,3.13],[1.5,3.8],[-0.33,6.13],[0.5,5.13],[-1.5,4.13],[-0.83,2.8],[0.67,2.47],[-0.5,1.8],[0.83,0.47],[-1.83,4.8]]
];

// Densely packed non-significant core of each volcano: [log2 fold change, -log10 p]
const volcanoCore = [
[[-1.5,3.5],[-1.3,3.3],[-1.2,2.6],[-0.9,2.9],[-0.8,2.2],[-0.6,1.9],[-0.4,1.7],[-0.3,1.2],[-0.1,0.9],[0.1,0.3],[-0.5,0.2],[-0.9,1.1],[-1.3,1.0],[-0.2,0.5],[0.2,0.9],[-1.4,2.4],[-0.7,3.0],[-1.6,2.0]],
[[-1.2,3.3],[-1.1,2.5],[-0.9,2.1],[-0.7,1.6],[-0.5,1.5],[-0.4,0.5],[-0.6,0.9],[-0.2,0.6],[0.1,0.4],[0.4,0.8],[-0.8,2.9],[-1.4,3.0],[0.6,1.4],[-0.1,1.0]],
[[-0.6,0.6],[-0.4,0.9],[-0.1,0.5],[0.1,0.6],[0.3,0.9],[0.5,1.2],[0.6,0.2],[0.9,0.5],[1.1,1.2],[0.2,1.2],[-0.3,0.2],[0.5,0.4],[0.8,1.6],[1.2,0.5],[0.0,1.6]],
[[-1.9,2.6],[-1.6,2.0],[-1.4,1.2],[-1.2,2.4],[-1.0,1.0],[-0.9,1.8],[-0.7,1.2],[-0.6,0.8],[-0.4,0.9],[-0.3,0.4],[-0.1,0.9],[0.1,0.3],[0.3,0.5],[0.4,1.0],[0.6,1.4],[0.7,2.4],[-1.3,0.7],[-0.8,0.4],[-2.1,1.4],[-1.5,2.6],[-0.2,1.7],[0.2,1.2]],
[[-0.8,2.5],[-0.6,1.6],[-0.5,2.5],[-0.3,1.5],[-0.2,0.9],[-0.1,1.6],[0.0,0.9],[0.2,1.0],[0.3,0.9],[0.4,1.3],[0.5,0.5],[0.2,0.5],[-0.4,0.7],[-0.3,2.9],[0.6,1.0],[-1.1,2.4],[0.0,2.6],[0.5,1.8]],
[[-1.8,1.3],[-1.6,0.9],[-1.4,1.2],[-1.2,0.7],[-0.9,0.5],[-0.7,0.7],[-0.4,0.4],[-0.2,0.2],[0.1,0.2],[0.3,0.4],[0.5,0.5],[0.6,1.1],[0.7,0.7],[0.8,1.5],[0.9,1.9],[-0.1,0.6],[-2.4,1.3],[-1.0,0.9]],
[[-0.4,0.4],[0.1,0.7],[0.8,1.0],[0.9,1.8],[-0.8,0.5]],
[[-1.4,1.6],[-1.2,1.4],[-0.9,1.1],[-0.8,0.6],[-0.6,0.9],[-0.4,0.6],[-0.2,0.3],[0.1,0.3],[0.2,0.8],[0.4,0.6],[0.6,0.9],[0.7,1.2],[0.9,1.5],[1.1,1.7],[1.3,2.0],[1.4,2.5],[1.6,2.6],[1.2,1.4],[0.9,2.5],[1.7,1.4],[1.9,2.0]],
[[-1.9,1.3],[-1.6,0.6],[-1.4,1.1],[-1.2,0.4],[-1.0,0.7],[-0.9,0.3],[-0.6,0.5],[-0.4,0.2],[-0.2,0.5],[0.1,0.3],[0.2,0.6],[0.4,0.3],[0.6,0.6],[0.8,1.0],[1.0,1.4],[1.2,0.6],[1.4,1.2],[-0.7,1.2],[0.3,1.1],[-1.2,1.6]],
[[-0.9,3.4],[-0.7,2.5],[-0.6,2.9],[-0.4,2.2],[-0.3,1.2],[-0.2,1.7],[-0.1,0.6],[0.1,0.7],[0.2,1.2],[0.3,0.3],[0.4,1.9],[0.5,1.3],[0.6,2.3],[-0.5,1.5],[0.0,1.5],[-0.4,0.9]],
[[-0.6,2.9],[-0.4,2.1],[-0.3,2.5],[-0.2,1.6],[-0.1,1.0],[0.0,0.7],[0.1,1.2],[0.2,0.5],[0.3,0.7],[-0.3,1.3],[-0.5,1.9],[-0.8,3.3],[-0.6,4.3],[-0.2,3.1],[0.1,0.2],[0.3,0.1],[-1.2,3.8],[-0.9,4.0]],
[[-1.4,2.4],[-1.2,2.0],[-1.0,1.6],[-0.8,1.7],[-0.7,1.1],[-0.5,0.8],[-0.3,0.5],[-0.2,0.3],[0.1,0.6],[0.3,0.9],[0.5,1.1],[0.7,1.4],[0.9,1.8],[1.1,2.2],[0.2,1.5],[-0.1,1.3],[-0.5,2.5],[0.6,2.4],[1.3,2.5],[-1.9,2.5]],
[[-1.4,2.7],[-1.2,2.2],[-1.0,1.6],[-0.9,2.3],[-0.7,1.0],[-0.6,0.8],[-0.4,0.9],[-0.3,0.3],[-0.1,0.6],[0.1,0.3],[0.2,0.9],[0.4,0.7],[0.5,1.9],[0.7,1.2],[0.9,1.6],[1.0,2.5],[-1.6,3.0],[-0.8,3.0],[-0.4,2.3],[0.3,1.4]],
[],
[[-0.7,1.3],[-0.5,1.0],[-0.4,0.6],[-0.2,1.1],[0.1,0.4],[0.2,1.0],[0.4,0.5],[0.3,1.7],[-0.8,1.8]],
[[-1.9,3.1],[-1.6,2.3],[-1.4,2.0],[-1.2,1.7],[-1.1,1.2],[-0.9,1.4],[-0.7,1.0],[-0.6,0.5],[-0.4,0.7],[-0.3,0.4],[-0.1,0.3],[0.1,0.4],[0.3,0.4],[0.4,0.2],[0.6,0.4],[-1.5,2.9],[-1.3,3.5],[-2.0,3.9],[-0.8,1.8],[-1.1,2.0],[-0.5,1.1],[0.0,0.7],[0.7,0.3]],
[[-1.1,1.5],[-0.9,1.1],[-0.7,2.3],[-0.6,1.3],[-0.4,0.6],[-0.2,1.4],[-0.1,0.4],[0.0,1.1],[0.2,0.6],[0.3,1.6],[0.4,1.0],[0.6,0.5],[0.8,1.3],[-0.3,2.0],[0.1,2.8],[-0.5,3.0],[-1.4,0.6],[0.9,0.7],[-2.0,1.0],[1.4,1.3]],
[[-1.2,2.2],[-1.1,3.0],[-0.9,2.0],[-0.8,3.3],[-0.6,1.5],[-0.5,2.6],[-0.4,0.9],[-0.2,1.1],[-0.1,0.5],[0.1,0.4],[0.2,1.5],[0.3,0.8],[0.4,1.2],[0.5,0.6],[0.6,1.7],[0.8,2.2],[0.9,1.4],[1.1,3.0],[-0.7,2.2],[-1.5,2.3],[1.2,2.3]],
[[-1.7,3.6],[-1.5,3.1],[-1.3,2.9],[-1.2,3.0],[-1.1,2.3],[-1.0,2.0],[-0.9,1.6],[-0.8,1.3],[-0.6,1.2],[-0.5,0.8],[-0.3,0.9],[-0.2,0.4],[0.0,0.6],[0.2,0.4],[0.3,0.9],[0.5,1.3],[0.6,1.0],[0.7,1.6],[-1.6,4.3],[-2.0,4.5],[-0.8,2.3],[-0.3,1.4],[0.2,1.1]],
[[-0.6,1.5],[-0.4,2.2],[-0.3,2.8],[-0.2,1.9],[-0.1,1.3],[0.0,1.0],[0.1,1.5],[0.3,0.6],[0.4,1.0],[0.6,1.4],[0.7,0.4],[0.9,1.2],[1.1,1.0],[1.2,1.5],[1.4,2.4],[1.6,2.2],[-0.5,0.6],[-0.8,1.3],[0.2,2.6],[1.5,1.3]],
[],
[],
[[0.1,0.3],[0.3,0.6],[0.4,1.0],[0.6,0.9],[0.7,1.9],[0.9,1.5],[1.0,2.5],[1.2,1.9],[1.3,2.3],[1.4,3.0],[1.6,2.6],[1.7,3.0],[1.9,3.5],[2.1,3.6],[2.2,4.2],[2.4,3.5],[-0.1,0.1],[1.1,1.2],[0.5,1.6]],
[[-1.0,0.9],[-0.8,1.3],[-0.6,0.9],[-0.4,1.2],[-0.2,1.7],[-0.1,0.9],[0.1,1.5],[0.2,2.2],[0.3,1.2],[0.4,1.9],[0.6,1.7],[0.7,0.9],[0.9,1.6],[1.1,1.2],[1.3,1.5],[0.0,2.4],[0.5,3.1],[-0.3,0.3],[0.8,2.1],[1.6,2.9]],
[[0.1,0.5],[0.3,0.6],[0.4,1.5],[0.6,1.1],[0.7,1.7],[0.9,2.0],[1.0,2.4],[1.1,1.6],[1.2,2.7],[1.3,2.1],[1.4,3.0],[1.6,3.2],[1.8,3.4],[1.9,4.4],[1.6,4.6],[-0.3,0.2],[0.9,0.9],[2.0,1.6],[1.4,1.3]],
[[-1.5,0.6],[-1.2,1.2],[-0.9,0.6],[-0.7,0.9],[-0.4,0.6],[-0.2,0.4],[0.1,0.4],[0.2,0.9],[0.4,0.5],[0.5,0.9],[0.8,0.9],[0.9,0.3],[1.2,1.0],[-0.5,0.2],[1.1,1.5]],
[[-0.5,0.3],[-0.3,1.0],[-0.1,0.6],[0.1,1.2],[0.2,0.5],[0.4,1.0],[0.5,1.4],[0.6,0.7],[0.7,1.2],[0.8,1.9],[0.9,1.6],[1.1,1.6],[1.2,2.6],[1.4,1.9],[1.0,0.8],[0.3,2.0],[-0.8,0.8],[0.6,2.7],[1.5,2.6]],
[[0.2,0.3],[0.4,1.0],[0.5,1.5],[0.7,0.8],[0.8,2.2],[0.9,1.2],[1.1,1.7],[1.2,2.5],[1.3,1.4],[1.4,2.9],[1.6,2.0],[1.7,2.6],[1.9,2.1],[2.0,3.2],[2.2,2.9],[2.3,2.2],[1.5,1.0],[1.0,2.6],[2.6,2.9],[1.8,3.8],[2.4,4.1],[3.0,2.6]],
[[-0.9,0.4],[-0.6,0.7],[-0.4,0.3],[-0.2,0.5],[0.1,0.3],[0.2,0.8],[0.4,0.5],[0.5,0.9],[0.6,1.3],[0.8,1.0],[1.0,1.3],[1.2,1.4],[0.7,2.2],[1.6,1.4]],
[[-0.5,0.4],[-0.4,1.1],[-0.3,0.6],[-0.2,1.8],[-0.1,0.4],[0.1,0.6],[0.2,1.5],[0.3,0.9],[0.4,1.3],[0.5,2.2],[0.6,0.6],[0.8,1.2],[0.9,2.2],[0.7,1.6],[-0.5,2.3],[0.1,2.4],[0.4,0.2],[1.1,1.3]],
[[-0.9,1.3],[-0.7,0.7],[-0.6,1.7],[-0.4,0.6],[-0.2,1.3],[-0.1,0.4],[0.1,0.7],[0.2,1.8],[0.3,0.5],[0.4,1.4],[0.6,1.1],[0.7,1.8],[0.8,2.6],[0.9,1.6],[1.0,2.4],[1.1,3.0],[1.2,1.9],[1.3,3.6],[1.4,2.6],[0.0,2.3],[-0.3,2.6],[0.5,3.0]],
[[-2.1,1.5],[-1.8,1.9],[-1.3,1.4],[-1.0,1.3],[-0.8,1.8],[-0.6,0.7],[-0.4,1.4],[-0.3,0.3],[-0.1,0.8],[0.1,0.4],[0.2,1.6],[0.3,2.7],[0.4,1.0],[0.5,3.0],[0.5,1.5],[0.7,2.1],[0.8,4.8],[0.9,3.0],[1.1,2.0],[1.1,3.6],[0.4,4.0],[1.3,1.4],[0.7,0.5],[-1.9,1.0]],
[[-0.2,0.4],[0.1,0.9],[0.2,0.3],[0.3,1.4],[0.4,1.7],[0.5,0.8],[0.6,1.8],[0.7,1.5],[0.8,2.2],[1.0,2.0],[1.1,2.9],[1.2,2.4],[1.3,3.3],[1.5,3.1],[1.6,2.4],[1.7,3.6],[1.9,2.7],[2.2,3.8],[2.4,2.9],[0.0,0.7],[-0.1,1.4]],
[[-0.2,0.5],[0.0,0.9],[0.2,0.8],[0.3,0.4],[-0.3,0.3],[0.4,0.9]],
[[0.0,4.2],[-0.1,3.6],[0.1,3.4],[-0.2,2.9],[0.2,2.5],[0.0,2.1],[-0.1,1.6],[0.1,1.2],[-0.2,0.9],[0.2,0.5],[0.0,0.6],[-0.3,1.8],[0.3,1.7],[0.1,4.4],[-0.2,4.2],[0.3,3.0],[0.0,0.2]],
[[-0.8,1.8],[-0.6,0.9],[-0.4,1.8],[-0.2,0.8],[-0.1,1.4],[0.3,0.6],[0.4,2.4],[0.5,1.2],[0.7,1.7],[0.9,0.8],[1.3,1.5],[-1.2,1.0],[0.2,0.3]],
[[-0.6,0.8],[-0.4,0.4],[-0.2,1.2],[-0.1,0.3],[0.1,0.4],[0.2,1.1],[0.3,0.6],[0.4,1.6],[0.5,1.0],[0.6,2.2],[0.7,1.8],[0.8,2.5],[0.9,1.4],[1.0,3.1],[1.2,2.0],[0.4,2.8],[-1.2,0.9],[-1.5,1.0],[-0.9,1.0],[1.3,4.3]],
[[-1.5,1.0],[-1.2,0.9],[-0.9,0.6],[-0.7,1.1],[-0.4,0.6],[-0.2,0.2],[0.1,0.4],[0.2,0.2],[0.5,0.5],[0.6,0.3],[0.9,0.7],[1.2,1.1],[1.5,1.4],[1.7,1.3],[2.0,1.6],[2.2,2.1],[2.5,2.6],[3.1,3.6],[3.5,4.0],[2.6,2.2],[0.4,0.9]],
[[-0.5,2.6],[-0.4,3.0],[-0.3,2.2],[-0.2,1.7],[-0.1,1.1],[0.0,0.4],[0.0,1.5],[0.2,0.6],[0.2,1.8],[0.3,2.1],[0.4,1.2],[0.5,2.6],[0.4,2.8],[-0.6,1.5],[-0.4,1.0],[0.6,1.6],[-0.2,3.4],[0.1,3.0],[0.3,0.4],[-0.1,0.2],[-1.0,3.6],[0.7,2.0]],
[[-0.3,0.3],[-0.1,0.5],[0.1,0.8],[0.2,0.6],[0.3,1.6],[0.4,1.1],[0.5,2.3],[0.6,1.4],[0.7,2.6],[0.8,1.9],[0.9,2.8],[1.0,2.1],[1.1,3.3],[1.2,2.7],[1.3,3.8],[1.4,2.9],[1.5,4.2],[1.6,3.4],[1.7,4.7],[1.8,3.9],[1.9,5.2],[2.0,4.3],[2.2,5.5],[2.3,4.6],[2.4,6.2],[1.6,5.8],[1.2,4.7],[0.7,3.1],[2.8,5.4],[3.0,6.3]],
[[0.3,5.0],[0.1,4.6],[0.4,4.3],[0.0,3.8],[0.3,3.5],[0.2,3.1],[-0.1,2.8],[0.4,2.9],[0.1,2.5],[0.3,2.0],[0.0,2.1],[0.4,1.3],[0.1,1.5],[-0.1,0.6],[0.2,0.9],[0.4,0.5],[0.0,0.8],[-0.2,2.0],[0.5,2.3],[0.2,5.6],[0.5,4.6],[-0.1,4.2]],
[[-1.2,4.1],[-0.9,3.8],[-0.8,3.1],[-0.6,3.4],[-0.5,2.8],[-0.4,2.0],[-0.3,1.6],[-0.2,1.2],[-0.1,0.8],[0.1,0.4],[0.2,1.4],[0.1,2.0],[0.3,1.2],[0.4,2.0],[0.2,2.7],[0.4,2.8],[-0.2,2.7],[0.0,3.0],[0.1,0.1],[-1.4,4.6],[0.5,1.5]],
[[-0.3,3.5],[-0.2,3.0],[0.0,2.4],[0.2,2.2],[0.1,1.7],[-0.1,1.5],[0.2,0.4],[0.0,0.8],[-0.2,0.9],[0.3,1.4],[0.4,3.0],[-0.5,2.2],[0.6,1.6],[-0.4,3.9],[0.2,4.2],[0.0,0.1],[-0.3,1.9]],
[[0.7,2.3],[0.6,2.0],[0.5,1.5],[0.4,1.4],[0.3,0.8],[0.1,0.9],[-0.1,0.3],[-0.4,0.6],[-0.6,1.0],[-0.8,1.2],[-1.0,1.6],[0.9,2.8],[1.0,3.5],[1.2,3.3],[1.3,4.2],[1.4,4.9],[0.9,3.9],[0.3,2.4],[-1.5,1.8],[1.7,2.2]],
[[-0.2,1.6],[0.1,1.9],[0.2,2.3],[-0.1,2.6],[0.3,1.6],[0.4,1.3],[-0.2,0.7],[0.1,0.5],[0.3,0.6],[0.0,1.2],[-0.4,2.2],[0.5,2.5],[0.4,3.0],[-0.1,3.2],[0.2,2.9],[0.6,1.6]],
[[0.6,5.3],[0.4,5.0],[0.5,4.4],[0.7,4.6],[0.4,4.1],[0.3,3.4],[0.4,3.0],[0.2,2.9],[0.1,2.4],[0.2,1.4],[0.4,1.8],[-0.1,1.7],[-0.2,1.3],[-0.3,0.7],[0.1,0.8],[0.3,1.1],[-0.5,0.9],[-0.7,1.0],[0.7,6.5],[0.6,3.5],[0.8,5.8],[0.5,2.6],[0.0,2.0],[-0.1,0.4]],
[[-0.3,0.6],[-0.1,0.2],[0.1,0.3],[0.3,0.6],[0.4,1.2],[0.5,0.6],[0.6,1.0],[0.8,1.3],[-0.6,1.1],[-0.8,1.8],[-1.0,2.0],[-1.3,2.6],[-1.5,3.0],[1.4,3.7],[-0.9,1.2],[-1.3,1.4],[0.8,0.5],[0.0,0.9],[-2.0,2.6],[-1.7,3.8]],
[[-1.3,1.8],[-1.1,1.4],[-0.9,1.3],[-0.8,1.0],[-0.6,0.9],[-0.4,0.6],[-0.2,0.4],[0.1,0.3],[0.2,0.4],[0.3,0.6],[0.4,0.8],[0.5,1.0],[0.6,1.5],[0.7,1.2],[0.9,1.7],[1.0,1.4],[-0.7,0.5],[0.8,0.6],[-0.3,1.5],[0.2,1.2],[1.3,1.3]],
[[0.1,0.9],[0.2,0.5],[0.3,1.3],[0.5,1.1],[0.6,1.6],[0.7,1.3],[0.8,2.2],[1.0,1.8],[1.1,2.6],[1.3,2.4],[1.4,3.2],[1.6,2.7],[1.7,3.7],[1.9,3.3],[2.0,4.5],[2.2,4.0],[2.3,5.0],[-0.2,0.2],[-0.4,1.0],[-0.6,0.8],[-0.8,1.5],[1.2,3.8],[2.6,4.4]],
[[-1.4,1.6],[-1.2,1.2],[-1.0,1.4],[-0.8,1.6],[-0.7,0.8],[-0.5,0.9],[-0.3,0.5],[-0.2,1.3],[-0.1,0.3],[0.1,0.4],[0.2,1.2],[0.3,0.6],[0.4,1.6],[0.5,0.9],[0.6,2.5],[0.7,1.4],[0.9,1.8],[1.0,2.4],[1.1,1.6],[1.2,2.6],[1.4,1.9],[1.5,2.8],[1.6,1.4],[1.8,2.0],[2.0,1.3],[-1.8,2.4],[-1.3,2.4]],
[[-0.4,2.5],[-0.3,1.8],[-0.2,1.4],[-0.1,0.9],[0.0,0.5],[0.1,1.0],[0.2,1.6],[0.3,2.2],[0.4,2.6],[0.4,0.5],[-0.3,0.5],[0.2,0.3],[-0.2,2.9],[0.0,2.3],[0.6,3.6],[-0.6,3.3],[0.2,3.4],[0.1,1.9],[-0.1,0.2],[0.7,2.5]],
[[-0.3,0.9],[-0.1,0.4],[0.1,0.2],[0.2,0.5],[0.3,1.0],[0.5,0.7],[0.5,1.5],[0.6,1.0],[0.8,1.4],[0.9,2.4],[1.0,1.6],[1.2,1.8],[0.8,2.8],[0.4,2.0],[0.2,1.4],[-0.4,1.5],[1.1,2.4],[0.6,3.6],[0.2,2.6],[-0.2,2.2]],
[[-0.9,2.4],[-0.8,3.0],[-0.6,2.6],[-0.6,1.5],[-0.4,1.3],[-0.3,1.9],[-0.1,0.9],[0.0,0.5],[0.1,0.3],[0.3,0.6],[0.4,1.4],[0.5,1.1],[0.6,2.1],[0.7,1.5],[0.8,2.8],[0.9,2.3],[1.0,3.3],[1.1,2.7],[1.2,3.5],[1.3,4.3],[-1.2,3.6],[-0.5,2.6],[0.2,2.0],[1.1,4.2]],
[[-1.2,2.0],[-1.1,2.6],[-0.9,1.5],[-0.8,2.2],[-0.6,0.9],[-0.5,1.3],[-0.3,0.3],[-0.2,0.8],[0.1,0.3],[0.2,0.8],[0.4,0.4],[0.5,1.2],[0.6,0.6],[0.8,1.4],[0.9,2.1],[1.1,1.6],[1.2,2.9],[1.4,3.4],[-1.4,3.0],[-1.7,3.4],[0.0,0.6],[1.3,2.3]]
];

// Placement of the knockout tag inside each panel: [dotX, dotY, textX, textY, anchor] (px from the axis corner, top-left)
const tagLayout = [
[84.3,5.5,75.5,8.5,"end"],[83,5.5,75.3,8.5,"end"],[82.7,5.5,74.3,8.5,"end"],[83.3,5.5,75.3,8.5,"end"],[83.3,14,76.7,11.5,"end"],
[83.3,5.5,75,8.5,"end"],[81.7,13.3,74.3,16,"end"],[82.3,5.5,72.7,8.5,"end"],[83.3,5.5,74.3,8.5,"end"],[83.3,5.5,75,8.5,"end"],
[83.3,31.7,88.3,22.3,"end"],[83,9,75.7,11.7,"end"],[82.7,5,74.3,7.7,"end"],[79.3,9,72,11.7,"end"],[78.3,4.3,71.7,6.9,"end"],
[82.3,19,80.7,11.7,"end"],[80,6.7,72.7,9.2,"end"],[82.3,4.5,74,7.5,"end"],[83.3,4.5,76,7.5,"end"],[83.3,4.5,73.3,7.5,"end"],
[8.3,19.3,17.3,21.7,"start"],[7.3,4.3,16.7,6.9,"start"],[7.7,11.7,17.7,14.3,"start"],[7.7,4.3,16.7,6.9,"start"],[8.3,18.3,18.3,14.3,"start"],
[6.7,4.3,16.7,6.9,"start"],[6.7,4.3,16.7,6.9,"start"],[7.3,31,5,20.7,"start"],[7.7,4.3,16.7,6.9,"start"],[6.7,4.3,15,6.9,"start"],
[8.3,10,17.3,12.7,"start"],[7.3,11,16.7,13.5,"start"],[7.7,5.3,17.7,7.9,"start"],[7.7,32.7,4.3,22,"start"],[8.3,5.3,18.3,7.9,"start"],
[6.7,5.3,16.7,7.9,"start"],[6.7,5.3,16.7,7.9,"start"],[7.3,5.3,16.7,7.9,"start"],[7.7,8.7,16.7,11.2,"start"],[9,35.3,1.7,24.3,"start"],
[84.3,4.3,20,18.7,"start"],[83,17,16.3,8.7,"start"],[82.7,4.3,73.3,6.9,"end"],[83.3,4.3,75.3,6.9,"end"],[83.3,34.3,78.3,31,"end"],
[6.7,5.3,15.7,7.9,"start"],[81.7,4.3,74.3,6.9,"end"],[75.7,4.3,70,6.9,"end"],[7.7,26.7,6,16.7,"start"],[74.3,4.3,66.7,6.9,"end"],
[83.3,8.3,76.7,10.5,"end"],[83,26.7,85.7,20,"end"],[82.7,26,84.3,12.7,"end"],[5.3,5.7,9.3,7.9,"start"]
];

const WIDTH = 1137;
const COL0 = 13.3, COL_STEP = 113.5, ROW0 = 18.3, ROW_STEP = 76.35;
const PANEL_H = 54.5, PX_PER_UNIT = 10;
const RED = "#e8232a", ORANGE = "#f5a324";
const LABEL_SIZE = 11.5, LABEL_MAX_W = 104;

const svg = d3.select("#chart");

panelLabels.forEach((name, i) => {
  const col = i % 10, row = Math.floor(i / 10);
  const left = COL0 + col * COL_STEP, top = ROW0 + row * ROW_STEP;
  const w = (xHi[i] - xLo[i]) * PX_PER_UNIT;
  const x = d3.scaleLinear().domain([xLo[i], xHi[i]]).range([0, w]);
  const y = d3.scaleLinear().domain([0, yMax]).range([PANEL_H, 0]);

  const g = svg.append("g").attr("transform", `translate(${left},${top})`);

  // significance threshold
  g.append("line")
    .attr("x1", 0).attr("x2", w)
    .attr("y1", y(thresholds[i])).attr("y2", y(thresholds[i]))
    .attr("stroke", "#555").attr("stroke-width", 1)
    .attr("stroke-dasharray", "4,2.5");

  // volcano points (core first, outliers on top)
  g.append("g").selectAll("circle")
    .data(volcanoCore[i].concat(volcanoPoints[i]))
    .join("circle")
    .attr("cx", d => x(d[0]))
    .attr("cy", d => y(d[1]))
    .attr("r", 1.85)
    .attr("fill", "#000");

  // L-shaped axes without ticks
  const ax = g.append("g").attr("transform", `translate(0,${PANEL_H})`)
    .call(d3.axisBottom(x).tickValues([]).tickSizeOuter(0).offset(0));
  const ay = g.append("g")
    .call(d3.axisLeft(y).tickValues([]).tickSizeOuter(0).offset(0));
  [ax, ay].forEach(a => a.select(".domain")
    .attr("stroke", "#000").attr("stroke-width", 2).attr("stroke-linecap", "square"));

  // knockout tag: red marker + italic strain name
  const t = tagLayout[i];
  g.append("circle").attr("cx", t[0]).attr("cy", t[1]).attr("r", 5.2).attr("fill", RED);
  g.append("text")
    .attr("x", t[2]).attr("y", t[3])
    .attr("text-anchor", t[4])
    .attr("font-size", 11).attr("font-style", "italic").attr("fill", "#1a1a1a")
    .text("\u0394" + knockouts[i]);

  // panel title under the x axis
  const lbl = g.append("text")
    .attr("y", PANEL_H + 13.2)
    .attr("font-size", LABEL_SIZE).attr("fill", "#111")
    .attr("text-anchor", "middle")
    .text(name);
  let tw = lbl.node().getComputedTextLength();
  if (tw > LABEL_MAX_W) {
    lbl.attr("font-size", LABEL_SIZE * LABEL_MAX_W / tw);
    tw = lbl.node().getComputedTextLength();
  }
  let cx;
  if (tw > 56) {
    cx = 46.5;                       // long names sit centred under the panel
  } else {
    cx = Math.max(tw / 2 - 4, Math.min(w - tw / 2 + 12, x(0)));  // short names follow zero
  }
  cx = Math.min(cx, WIDTH - 1 - left - tw / 2);
  lbl.attr("x", cx);

  if (starred.includes(name)) {
    g.append("path")
      .attr("d", d3.symbol(d3.symbolStar, 62)())
      .attr("transform", `translate(${cx - tw / 2 - 9.5},${PANEL_H + 9.5})`)
      .attr("fill", ORANGE);
  }
});
</script>
</body></html>
